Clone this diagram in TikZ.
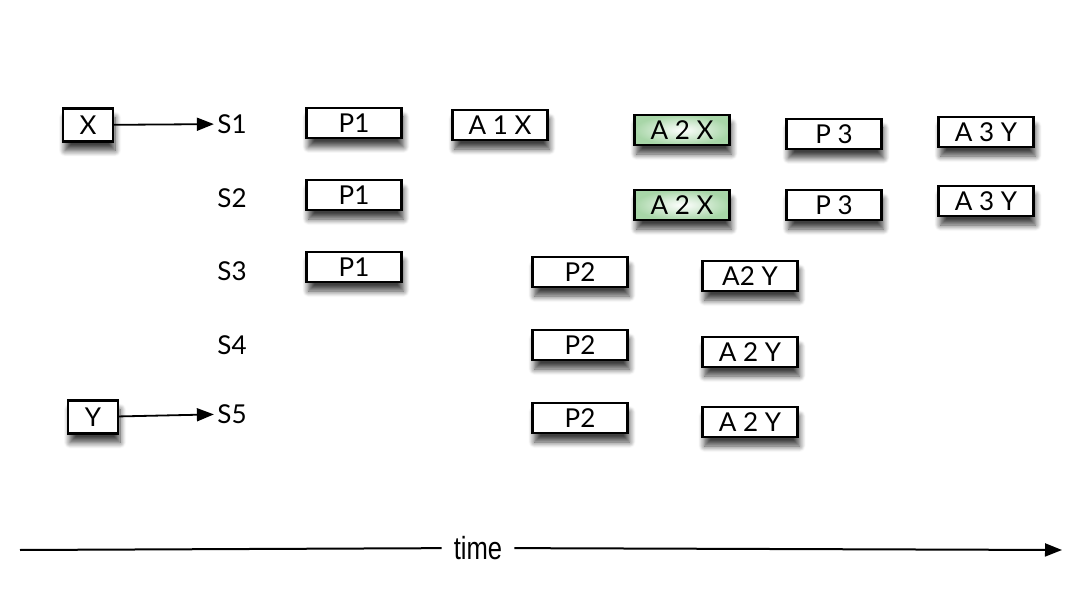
\documentclass[tikz,border=0pt]{standalone}
\usepackage{fontspec}
\setmainfont{Lato}
\newfontfamily\axisfont{Liberation Sans}
\usetikzlibrary{positioning,arrows.meta,shadows.blur}

\begin{document}
\begin{tikzpicture}[x=1pt,y=-1pt,>={Triangle[length=17pt,width=13pt]},
  stage/.style={draw,line width=2.2pt,fill=white,minimum width=95pt,minimum height=30pt,
    inner sep=0pt,font=\fontsize{26}{27}\selectfont,
    blur shadow={shadow xshift=2pt,shadow yshift=-9pt,shadow blur steps=10,shadow blur radius=6pt,shadow opacity=75}},
  hot/.style={stage,shading=radial,inner color=white,outer color={rgb,255:red,168;green,214;blue,168}},
  input/.style={stage,minimum width=50pt,minimum height=33pt},
  site/.style={font=\fontsize{26}{27}\selectfont}]
  \useasboundingbox (0,0) rectangle (1072,604);
  % sites
  \node[site] (s1) at (232,124) {S1};
  \node[site] (s2) at (232,198) {S2};
  \node[site] (s3) at (232,271) {S3};
  \node[site] (s4) at (232,345) {S4};
  \node[site] (s5) at (232,414) {S5};
  % inputs
  \node[input] (x) at (88,125) {X};
  \node[input] (y) at (93,417) {Y};
  \draw[line width=1.8pt,->] (x) -- (s1);
  \draw[line width=1.8pt,->] (y) -- (s5);
  % S1
  \node[stage] (p1a) at (354,123) {P1};
  \node[stage] (a1x) at (500,125) {A 1 X};
  \node[hot] (a2xa) at (682,130) {A 2 X};
  \node[stage] (p3a) at (834,134) {P 3};
  \node[stage] (a3ya) at (986,132) {A 3 Y};
  % S2
  \node[stage] (p1b) at (354,195) {P1};
  \node[hot] (a2xb) at (682,205) {A 2 X};
  \node[stage] (p3b) at (834,205) {P 3};
  \node[stage] (a3yb) at (986,201) {A 3 Y};
  % S3
  \node[stage] (p1c) at (354,267) {P1};
  \node[stage] (p2a) at (580,272) {P2};
  \node[stage] (a2ya) at (750,276) {A2 Y};
  % S4
  \node[stage] (p2b) at (580,345) {P2};
  \node[stage] (a2yb) at (750,352) {A 2 Y};
  % S5
  \node[stage] (p2c) at (580,418) {P2};
  \node[stage] (a2yc) at (750,422) {A 2 Y};
  % time axis
  \coordinate (t0) at (20,550);
  \coordinate (t1) at (1062,550);
  \node[font=\axisfont\fontsize{32}{34}\selectfont,inner xsep=12pt] (time) at (478,548) {\scalebox{0.8}[1]{time}};
  \draw[line width=2pt] (t0) -- (time);
  \draw[line width=2pt,->] (time) -- (t1);
\end{tikzpicture}
\end{document}
